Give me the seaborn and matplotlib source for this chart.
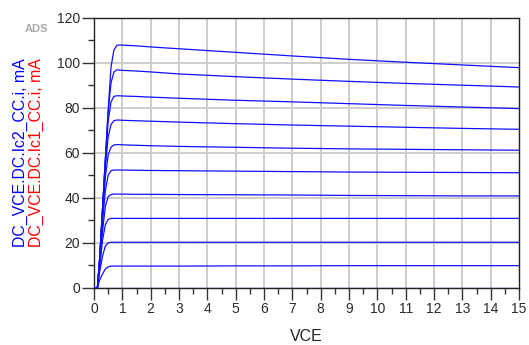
import matplotlib
matplotlib.use("Agg")
import matplotlib.pyplot as plt
import seaborn as sns
import pandas as pd
from matplotlib.ticker import MultipleLocator

# Collector-emitter voltage sample points (V)
vce = [0.0, 0.12, 0.2, 0.3, 0.4, 0.5, 0.6, 0.7, 0.8, 0.9, 1.0,
       1.5, 2, 3, 5, 7, 9, 11, 13, 15]

# Collector current (mA) for each base-current step
ic_1 = [0, 0, 13, 35, 57, 79, 98, 105.5, 107.6, 107.9, 107.8,
        107.5, 107.0, 106.2, 104.6, 103.0, 101.5, 100.2, 99.0, 97.8]
ic_2 = [0, 0, 13, 35, 57, 78, 91, 95.8, 96.8, 96.7, 96.6,
        96.3, 95.9, 95.0, 93.8, 92.7, 91.7, 90.8, 90.0, 89.2]
ic_3 = [0, 0, 13, 35, 56, 74, 82.5, 85.0, 85.3, 85.3, 85.2,
        85.0, 84.7, 84.2, 83.3, 82.6, 81.8, 81.0, 80.3, 79.6]
ic_4 = [0, 0, 13, 34, 53, 67, 72.5, 74.2, 74.5, 74.5, 74.4,
        74.2, 74.0, 73.6, 72.9, 72.3, 71.8, 71.3, 70.8, 70.4]
ic_5 = [0, 0, 12, 32, 49, 59, 62.5, 63.4, 63.6, 63.6, 63.5,
        63.3, 63.1, 62.8, 62.4, 62.0, 61.7, 61.5, 61.3, 61.1]
ic_6 = [0, 0, 11, 29, 43, 50, 52.0, 52.3, 52.3, 52.3, 52.3,
        52.2, 52.1, 52.0, 51.8, 51.6, 51.4, 51.3, 51.2, 51.1]
ic_7 = [0, 0, 10, 25, 36, 40.5, 41.4, 41.6, 41.6, 41.6, 41.6,
        41.5, 41.5, 41.4, 41.3, 41.2, 41.0, 40.9, 40.8, 40.8]
ic_8 = [0, 0, 9, 21, 28, 30.3, 30.8, 30.8, 30.8, 30.8, 30.8,
        30.8, 30.8, 30.8, 30.8, 30.8, 30.8, 30.8, 30.8, 30.8]
ic_9 = [0, 0, 7, 14, 18.5, 19.9, 20.2, 20.2, 20.2, 20.2, 20.2,
        20.2, 20.2, 20.2, 20.2, 20.2, 20.2, 20.2, 20.2, 20.2]
ic_10 = [0, 0, 3.5, 6.0, 8.3, 9.3, 9.6, 9.6, 9.6, 9.6, 9.6,
         9.6, 9.6, 9.6, 9.7, 9.7, 9.8, 9.8, 9.8, 9.8]
ic_11 = [0] * len(vce)

curves = [ic_1, ic_2, ic_3, ic_4, ic_5, ic_6, ic_7, ic_8, ic_9, ic_10, ic_11]

x_ticks = list(range(0, 16))
y_ticks = [0, 20, 40, 60, 80, 100, 120]

rows = []
for k, ic in enumerate(curves):
    for v, i in zip(vce, ic):
        rows.append({"VCE": v, "Ic": i, "step": k})
df = pd.DataFrame(rows)

sns.set_style("white")
plt.rcParams["font.family"] = ["Liberation Sans", "DejaVu Sans"]

fig = plt.figure(figsize=(5.29, 3.45), dpi=100)
ax = fig.add_axes([94 / 529, 1 - 287.7 / 345, 425 / 529, 270 / 345])

sns.lineplot(data=df, x="VCE", y="Ic", units="step", estimator=None,
             sort=False, color="#1010ff", linewidth=0.9, ax=ax,
             legend=False, zorder=3)

ax.set_xlim(0, 15)
ax.set_ylim(0, 120)
ax.set_xticks(x_ticks)
ax.set_yticks(y_ticks)
ax.xaxis.set_minor_locator(MultipleLocator(0.5))
ax.yaxis.set_minor_locator(MultipleLocator(10))

# light gray grid at every major tick
for xv in x_ticks[1:-1]:
    ax.axvline(xv, color="#cdcdcd", lw=1.4, zorder=1)
for yv in y_ticks[1:-1]:
    ax.axhline(yv, color="#cdcdcd", lw=1.4, zorder=1)

for s in ax.spines.values():
    s.set_color("#222222")
    s.set_linewidth(1.0)

ax.tick_params(axis="both", which="major", direction="out", length=8.5,
               width=1.0, color="#333333", labelsize=10, labelcolor="#2a2a2a",
               pad=1.5, left=True, bottom=True)
ax.tick_params(axis="both", which="minor", direction="out", length=4.3,
               width=1.0, color="#333333", left=True, bottom=True)
ax.set_xlabel("")
ax.set_ylabel("")

fig.text(0.579, 0.026, "VCE", fontsize=11.5, color="#222222",
         ha="center", va="center")
fig.text(0.0388, 0.559, "DC_VCE.DC.Ic2_CC.i, mA", rotation=90,
         fontsize=11.4, color="#0000ff", ha="center", va="center")
fig.text(0.069, 0.559, "DC_VCE.DC.Ic1_CC.i, mA", rotation=90,
         fontsize=11.4, color="#ff0000", ha="center", va="center")
fig.text(0.068, 0.917, "ADS", fontsize=8, color="#a8a8a8",
         fontweight="bold", ha="center", va="center")

fig.savefig("out.png", dpi=100)
